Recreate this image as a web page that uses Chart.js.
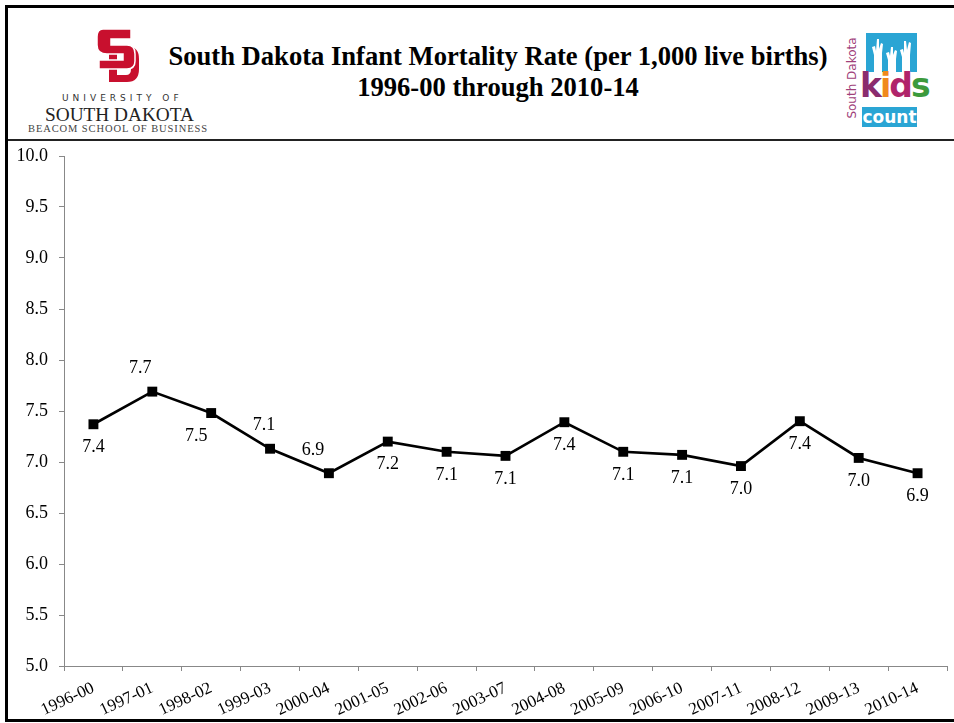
<!DOCTYPE html>
<html>
<head>
<meta charset="utf-8">
<script src="https://cdn.jsdelivr.net/npm/chart.js@4/dist/chart.umd.min.js"></script>
<style>
  html, body { margin: 0; padding: 0; background: #fff; }
  body { width: 954px; height: 723px; position: relative; overflow: hidden; font-family: "Liberation Serif", serif; }
  #frame { position: absolute; left: 5px; top: 5px; width: 960px; height: 711px;
           border-left: 3px solid #000; border-top: 3px solid #000; border-bottom: 3px solid #000; }
  #headerLine { position: absolute; left: 8px; top: 139px; width: 946px; height: 2px; background: #222; }
  .title { position: absolute; left: 0; width: 996px; text-align: center; font-weight: bold; font-size: 26.6px; color: #000; white-space: nowrap; }
  #usd .t1 { position: absolute; left: 62px; top: 93px; font-family: "DejaVu Sans", sans-serif; font-size: 9px; letter-spacing: 4px; color: #333; }
  #usd .t2 { position: absolute; left: 45px; top: 104px; font-size: 19.3px; color: #222; }
  #usd .t3 { position: absolute; left: 28px; top: 123px; font-size: 10.5px; letter-spacing: 0.9px; color: #444; }
  #kids .side { position: absolute; left: 806px; top: 71px; width: 92px; transform: rotate(-90deg);
                font-family: "DejaVu Sans", sans-serif; font-size: 12px; color: #a0407a; text-align: center; }
  #kids .box { position: absolute; left: 866px; top: 33px; width: 51px; height: 39px; background: #2aa5d4; }
  #kids .word { position: absolute; left: 860px; top: 66px; font-family: "DejaVu Sans", sans-serif; font-weight: bold; font-size: 33px; letter-spacing: -2px; }
  #kids .count { position: absolute; left: 862px; top: 107px; width: 55px; height: 20px; background: #2aa5d4;
                 color: #fff; font-family: "DejaVu Sans", sans-serif; font-weight: bold; font-size: 17px; line-height: 20px; text-align: center; }
  #chartBox { position: absolute; left: 8px; top: 142px; width: 946px; height: 577px; }
</style>
</head>
<body>
<div id="frame"></div>
<div id="headerLine"></div>

<div id="usd">
  <svg style="position:absolute;left:95px;top:27px" width="48" height="56" viewBox="0 0 48 56">
    <!-- D -->
    <path d="M14 20 H34 Q44 20 44 32 V42 Q44 55 32 55 H14 Z M22 27 V48 H31 Q36 48 36 42 V33 Q36 27 31 27 Z" fill="#c8102e" fill-rule="evenodd"/>
    <!-- S -->
    <path d="M8 2 H36 V12 H16 V18 H32 Q40 18 40 27 V34 Q40 42 32 42 H4 V33 H28 V27 H12 Q2 27 2 18 V10 Q2 2 8 2 Z" fill="#c8102e" stroke="#fff" stroke-width="1.5"/>
  </svg>
  <div class="t1">UNIVERSITY OF</div>
  <div class="t2">SOUTH DAKOTA</div>
  <div class="t3">BEACOM SCHOOL OF BUSINESS</div>
</div>

<div class="title" style="top:41px">South Dakota Infant Mortality Rate (per 1,000 live births)</div>
<div class="title" style="top:72px">1996-00 through 2010-14</div>

<div id="kids">
  <div class="side">South Dakota</div>
  <div class="box">
    <svg width="51" height="39" viewBox="0 0 51 39">
      <path d="M8 39 V22 L6 14 L9 13 L10 18 L11 6 L13 6 L13 16 L15 10 L17 11 L16 20 L16 39 Z" fill="#fff"/>
      <path d="M22 39 V27 L20 20 L23 19 L24 23 L25 14 L27 14 L27 22 L29 17 L31 18 L30 26 L30 39 Z" fill="#fff"/>
      <path d="M36 39 V24 L34 17 L37 16 L38 20 L38 8 L40 8 L41 17 L43 9 L45 10 L44 22 L44 39 Z" fill="#fff"/>
    </svg>
  </div>
  <div class="word"><span style="color:#8a2c6e">k</span><span style="color:#f08a1c">i</span><span style="color:#b0246a">d</span><span style="color:#3c9a3c">s</span></div>
  <div class="count">count</div>
</div>

<div id="chartBox"><canvas id="rateChart"></canvas></div>

<script>
// Periodos de 5 años (eje X)
const periods = ['1996-00', '1997-01', '1998-02', '1999-03', '2000-04', '2001-05', '2002-06',
  '2003-07', '2004-08', '2005-09', '2006-10', '2007-11', '2008-12', '2009-13', '2010-14'];

// Tasa de mortalidad infantil por 1,000 nacidos vivos
const rates = [7.37, 7.69, 7.48, 7.13, 6.89, 7.20, 7.10, 7.06, 7.39, 7.10, 7.07, 6.96, 7.40, 7.04, 6.89];

// Marcas del eje Y
const yTicks = [5.0, 5.5, 6.0, 6.5, 7.0, 7.5, 8.0, 8.5, 9.0, 9.5, 10.0];

// Ubicación de cada etiqueta de valor (arriba / abajo del punto) y pequeño corrimiento horizontal
const labelSide = ['below', 'above', 'below', 'above', 'above', 'below', 'below', 'below',
  'below', 'below', 'below', 'below', 'below', 'below', 'below'];
const labelShift = [0, -12, -15, -6, -16, 0, 0, 0, 0, 0, 0, 0, 0, 0, 0];

const serif = '"Liberation Serif", "Times New Roman", serif';

// Dibuja el valor de cada punto
const valueLabels = {
  id: 'valueLabels',
  afterDatasetsDraw(chart) {
    const ctx = chart.ctx;
    const meta = chart.getDatasetMeta(0);
    ctx.save();
    ctx.font = '18px ' + serif;
    ctx.fillStyle = '#000';
    ctx.textAlign = 'center';
    ctx.textBaseline = 'middle';
    meta.data.forEach((pt, i) => {
      const dy = labelSide[i] === 'above' ? -23 : 23;
      ctx.fillText(rates[i].toFixed(1), pt.x + labelShift[i], pt.y + dy);
    });
    ctx.restore();
  }
};

const ctx = document.getElementById('rateChart').getContext('2d');

new Chart(ctx, {
  type: 'line',
  data: {
    labels: periods,
    datasets: [{
      data: rates,
      borderColor: '#000',
      borderWidth: 2.6,
      backgroundColor: '#000',
      pointStyle: 'rect',
      pointRadius: 7,
      pointBorderWidth: 0,
      tension: 0,
      fill: false
    }]
  },
  options: {
    responsive: true,
    maintainAspectRatio: false,
    animation: false,
    layout: { padding: { top: 14, right: 2, left: 0, bottom: 0 } },
    plugins: {
      legend: { display: false },
      tooltip: { enabled: false }
    },
    scales: {
      x: {
        offset: true,
        grid: { display: true, offset: true, drawOnChartArea: false, color: '#888', tickLength: 5 },
        border: { color: '#888', width: 1 },
        ticks: {
          color: '#000',
          font: { family: serif, size: 17 },
          maxRotation: 25,
          minRotation: 25,
          padding: 7,
          autoSkip: false
        },
        afterFit(scale) { scale.height = 53; }
      },
      y: {
        min: 5,
        max: 10,
        afterBuildTicks(scale) { scale.ticks = yTicks.map(v => ({ value: v })); },
        grid: { display: true, drawOnChartArea: false, color: '#888', tickLength: 5 },
        border: { color: '#888', width: 1 },
        ticks: {
          color: '#000',
          font: { family: serif, size: 18 },
          padding: 11,
          callback: v => Number(v).toFixed(1)
        },
        afterFit(scale) {
          scale.width = 56;
          scale.paddingTop = 0;
          scale.paddingBottom = 0;
        }
      }
    }
  },
  plugins: [valueLabels]
});
</script>
</body>
</html>
